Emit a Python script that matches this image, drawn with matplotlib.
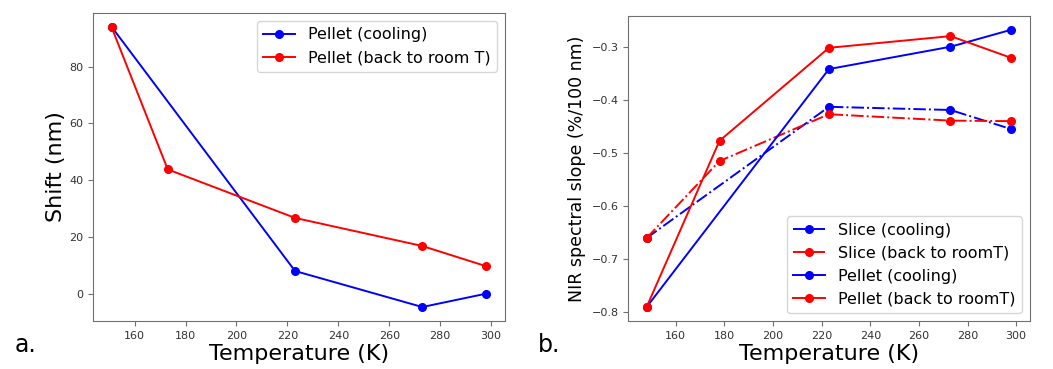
import numpy as np
import matplotlib.pyplot as plt

# panel a: shift vs temperature (pellet)
t_cool_a = [151, 223, 273, 298]
shift_cool = [94, 8, -4.7, 0]
t_back_a = [151, 173, 223, 273, 298]
shift_back = [93.8, 43.8, 26.7, 16.8, 9.7]

# panel b: NIR spectral slope
t_slice_cool = [148, 223, 273, 298]
slice_cool = [-0.660, -0.413, -0.419, -0.455]
t_slice_back = [148, 178, 223, 273, 298]
slice_back = [-0.660, -0.515, -0.427, -0.439, -0.440]
t_pellet_cool = [148, 223, 273, 298]
pellet_cool = [-0.790, -0.342, -0.300, -0.268]
t_pellet_back = [148, 178, 223, 273, 298]
pellet_back = [-0.790, -0.477, -0.302, -0.280, -0.321]

fig = plt.figure(figsize=(10.53, 3.69), dpi=100)
ax1 = fig.add_axes([0.0883, 0.130, 0.391, 0.835])
ax2 = fig.add_axes([0.5967, 0.130, 0.381, 0.827])

for ax in (ax1, ax2):
    for s in ax.spines.values():
        s.set_color('#707070')
    ax.tick_params(labelsize=8, colors='#707070', labelcolor='#333333')

ax1.plot(t_cool_a, shift_cool, 'b-o', ms=5.5, lw=1.4, label='Pellet (cooling)')
ax1.plot(t_back_a, shift_back, 'r-o', ms=5.5, lw=1.4, label='Pellet (back to room T)')
ax1.set_xlabel('Temperature (K)', fontsize=16, labelpad=2)
ax1.set_ylabel('Shift (nm)', fontsize=16, labelpad=2)
ax1.set_xticks(np.arange(160, 301, 20))
ax1.set_yticks([0, 20, 40, 60, 80])
ax1.legend(loc='upper right', fontsize=11.5)

ax2.plot(t_slice_cool, slice_cool, 'b-.o', ms=5.5, lw=1.4, label='Slice (cooling)')
ax2.plot(t_slice_back, slice_back, 'r-.o', ms=5.5, lw=1.4, label='Slice (back to roomT)')
ax2.plot(t_pellet_cool, pellet_cool, 'b-o', ms=5.5, lw=1.4, label='Pellet (cooling)')
ax2.plot(t_pellet_back, pellet_back, 'r-o', ms=5.5, lw=1.4, label='Pellet (back to roomT)')
ax2.set_xlabel('Temperature (K)', fontsize=16, labelpad=2)
ax2.set_ylabel('NIR spectral slope (%/100 nm)', fontsize=12.5, labelpad=4)
ax2.set_xticks(np.arange(160, 301, 20))
ax2.legend(loc='lower right', fontsize=11.5)

fig.text(0.014, 0.045, 'a.', fontsize=17)
fig.text(0.511, 0.045, 'b.', fontsize=17)

fig.savefig('out.png', dpi=100)
